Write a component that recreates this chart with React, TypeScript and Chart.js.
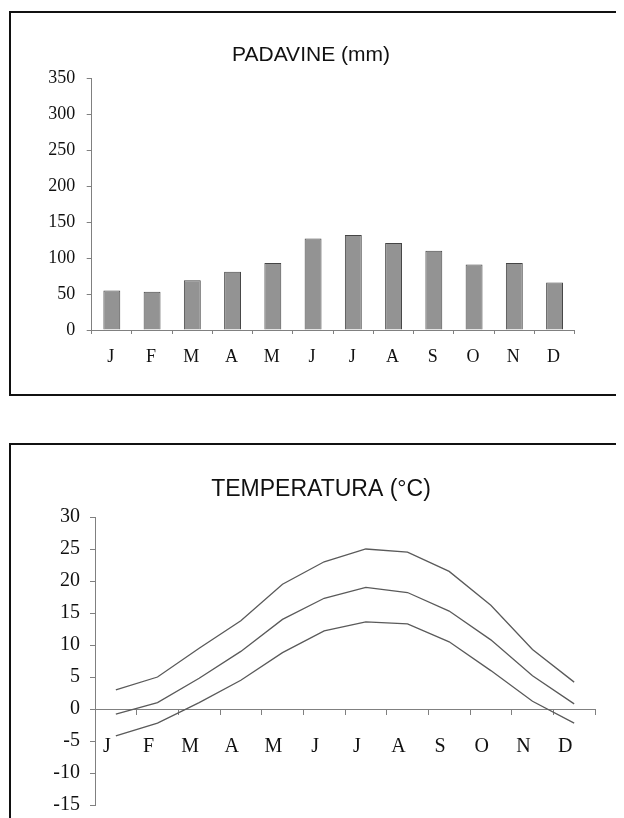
import React, { useEffect, useRef } from "react";
import { Chart, registerables } from "chart.js";

Chart.register(...registerables);

const MONTHS = ["J", "F", "M", "A", "M", "J", "J", "A", "S", "O", "N", "D"];
const PRECIP = [55, 53, 69, 81, 93, 127, 132, 121, 110, 91, 93, 66];
const T_MAX = [3.0, 5.0, 9.5, 13.8, 19.5, 23.0, 25.0, 24.5, 21.5, 16.2, 9.3, 4.2];
const T_MEAN = [-0.8, 1.0, 4.8, 9.0, 14.0, 17.3, 19.0, 18.2, 15.3, 10.8, 5.2, 0.8];
const T_MIN = [-4.2, -2.2, 1.0, 4.5, 8.8, 12.2, 13.6, 13.3, 10.5, 6.0, 1.2, -2.2];
const PRECIP_TITLE = "PADAVINE (mm)";
const TEMP_TITLE = "TEMPERATURA (°C)";

const SERIF = "'Liberation Serif', 'Times New Roman', serif";
const SANS = "'Liberation Sans', Arial, sans-serif";
const AXIS = "#808080";
const TEXT = "#111111";

function PrecipChart() {
  const ref = useRef<HTMLCanvasElement | null>(null);
  useEffect(() => {
    if (!ref.current) return;
    const chart = new Chart(ref.current, {
      type: "bar",
      data: {
        labels: MONTHS,
        datasets: [
          {
            data: PRECIP,
            backgroundColor: "#939393",
            borderColor: "#454545",
            borderWidth: 1,
            barPercentage: 0.42,
            categoryPercentage: 1,
            yAxisID: "y",
          },
        ],
      },
      options: {
        animation: false,
        responsive: false,
        layout: { padding: 0 },
        plugins: {
          legend: { display: false },
          tooltip: { enabled: false },
          title: {
            display: true,
            text: PRECIP_TITLE,
            color: TEXT,
            font: { family: SANS, size: 21, weight: "normal" },
            padding: { top: 29.4, bottom: 10.4 },
          },
        },
        scales: {
          x: {
            offset: true,
            grid: { display: true, drawOnChartArea: false, tickLength: 4, color: AXIS, offset: true },
            border: { display: true, color: AXIS, width: 1 },
            ticks: { color: TEXT, font: { family: SERIF, size: 18 }, padding: 12, labelOffset: -1 },
            afterFit: (s: any) => {
              s.height = 64;
            },
          },
          y: {
            min: 0,
            max: 350,
            ticks: { stepSize: 50, color: TEXT, font: { family: SERIF, size: 18 }, padding: 11.5 },
            grid: { display: true, drawOnChartArea: false, tickLength: 5, color: AXIS },
            border: { display: true, color: AXIS, width: 1 },
            afterFit: (s: any) => {
              s.width = 80.7;
            },
          },
          pad: {
            type: "linear",
            position: "right",
            display: true,
            grid: { display: false },
            border: { display: false },
            ticks: { display: false },
            afterFit: (s: any) => {
              s.width = 36.3;
            },
          },
        },
      } as any,
    });
    return () => chart.destroy();
  }, []);
  return <canvas ref={ref} width={600} height={381} style={{ width: 600, height: 381, display: "block" }} />;
}

function TempChart() {
  const ref = useRef<HTMLCanvasElement | null>(null);
  useEffect(() => {
    if (!ref.current) return;
    const line = (data: number[]) => ({
      data,
      borderColor: "#5a5a5a",
      borderWidth: 1.3,
      pointRadius: 0,
      tension: 0,
      fill: false,
      yAxisID: "y",
    });
    const chart = new Chart(ref.current, {
      type: "line",
      data: {
        labels: MONTHS,
        datasets: [line(T_MAX), line(T_MEAN), line(T_MIN)],
      },
      options: {
        animation: false,
        responsive: false,
        layout: { padding: 0 },
        plugins: {
          legend: { display: false },
          tooltip: { enabled: false },
          title: {
            display: true,
            text: TEMP_TITLE,
            color: TEXT,
            font: { family: SANS, size: 23, weight: "normal" },
            padding: { top: 31, bottom: 13.4 },
          },
        },
        scales: {
          x: {
            position: { y: 0 },
            offset: true,
            grid: { display: true, drawOnChartArea: false, tickLength: 5, color: AXIS, offset: true },
            border: { display: true, color: AXIS, width: 1 },
            ticks: { color: TEXT, font: { family: SERIF, size: 20 }, padding: 21, labelOffset: -9 },
            afterFit: (s: any) => {
              s.height = 0;
            },
          },
          y: {
            min: -15,
            max: 30,
            ticks: { stepSize: 5, color: TEXT, font: { family: SERIF, size: 20 }, padding: 10 },
            grid: { display: true, drawOnChartArea: false, tickLength: 5, color: AXIS },
            border: { display: true, color: AXIS, width: 1 },
            afterFit: (s: any) => {
              s.width = 84;
            },
          },
          pad: {
            type: "linear",
            position: "right",
            display: true,
            grid: { display: false },
            border: { display: false },
            ticks: { display: false },
            afterFit: (s: any) => {
              s.width = 36;
            },
          },
        },
      } as any,
    });
    return () => chart.destroy();
  }, []);
  return <canvas ref={ref} width={620} height={382} style={{ width: 620, height: 382, display: "block" }} />;
}

export default function App() {
  useEffect(() => {
    document.documentElement.style.overflow = "hidden";
    document.body.style.overflow = "hidden";
  }, []);
  return (
    <div style={{ position: "relative", width: 616, height: 810, overflow: "hidden", background: "#fff" }}>
      <div
        style={{
          position: "absolute",
          left: 1,
          top: 3,
          width: 613,
          height: 385,
          border: "2px solid #111",
          boxSizing: "border-box",
          overflow: "hidden",
        }}
      >
        <div style={{ position: "absolute", left: 0, top: 0 }}>
          <PrecipChart />
        </div>
      </div>
      <div
        style={{
          position: "absolute",
          left: 1,
          top: 435,
          width: 700,
          height: 500,
          border: "2px solid #111",
          boxSizing: "border-box",
          overflow: "hidden",
        }}
      >
        <div style={{ position: "absolute", left: 0, top: 0 }}>
          <TempChart />
        </div>
      </div>
    </div>
  );
}
